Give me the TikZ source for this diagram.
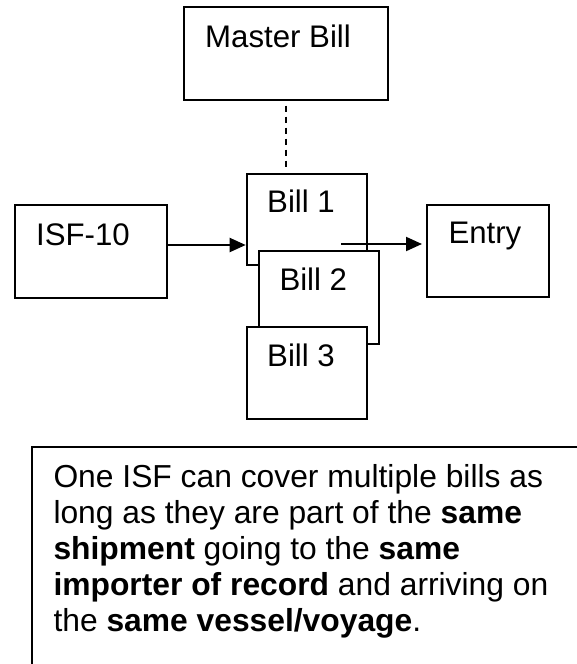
\documentclass[tikz,border=0pt]{standalone}
\usepackage{fontspec}
\setmainfont{Liberation Sans}
\usetikzlibrary{arrows.meta}
\begin{document}
\begin{tikzpicture}[x=1pt,y=1pt,
  box/.style={draw=black, line width=2pt, fill=white, rectangle, inner sep=0pt, anchor=north west},
  lbl/.style={anchor=base west, inner sep=0pt, font=\fontsize{31.2}{36}\selectfont},
  notelbl/.style={anchor=base west, inner sep=0pt, font=\fontsize{31.8}{36}\selectfont},
  arr/.style={line width=2pt, -{Triangle[length=16pt,width=14pt]}},
  dashline/.style={line width=2pt, dash pattern=on 6pt off 5pt}
]
\useasboundingbox (0,0) rectangle (576,-664);
% boxes
\node[box, minimum width=204.3pt, minimum height=92.7pt] (master) at (182.7,-6) {};
\node[box, minimum width=152pt, minimum height=92.4pt] (isf) at (14,-204.3) {};
\node[box, minimum width=122.3pt, minimum height=91.7pt] (entry) at (426,-204.3) {};
\node[box, minimum width=120.6pt, minimum height=91.6pt] (bill1) at (245.7,-172.7) {};
\node[box, minimum width=120.6pt, minimum height=92.7pt] (bill2) at (257.7,-250) {};
\node[box, minimum width=120.6pt, minimum height=92.3pt] (bill3) at (245.7,-326) {};
% labels
\node[lbl] (tmaster) at (205,-47) {Master Bill};
\node[lbl] (tisf) at (36,-245) {ISF-10};
\node[lbl] (tentry) at (448.3,-243) {Entry};
\node[lbl] (tb1) at (267,-212.7) {Bill 1};
\node[lbl] (tb2) at (279.3,-290) {Bill 2};
\node[lbl] (tb3) at (267,-366) {Bill 3};
% connectors
\draw[dashline, shorten <=5pt, shorten >=5pt] (master.south) -- (master.south |- bill1.north);
\draw[arr] (isf.east |- 0,-245) -- (bill1.west |- 0,-245);
\coordinate (bstart) at (341,-244);
\draw[arr, shorten >=4pt] (bstart) -- (entry.west |- bstart);
% note box
\coordinate (noteTR) at (580,-447.3);
\coordinate (noteTL) at (31.7,-447.3);
\coordinate (noteBL) at (31.7,-668);
\draw[line width=2pt] (noteTR) -- (noteTL) -- (noteBL);
\node[notelbl] (n1) at (53.3,-487) {One ISF can cover multiple bills as};
\node[notelbl] (n2) at (53.3,-523) {long as they are part of the \textbf{same}};
\node[notelbl] (n3) at (53.3,-559) {\textbf{shipment} going to the \textbf{same}};
\node[notelbl] (n4) at (53.3,-595) {\textbf{importer of record} and arriving on};
\node[notelbl] (n5) at (53.3,-631) {the \textbf{same vessel/voyage}.};
\end{tikzpicture}
\end{document}
